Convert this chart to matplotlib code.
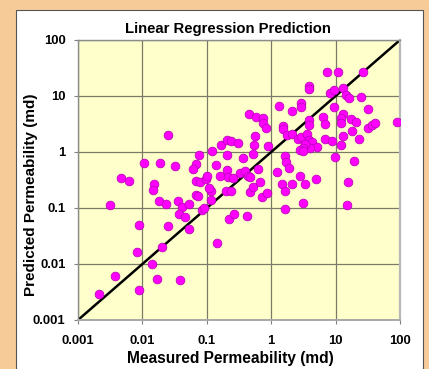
import numpy as np
import matplotlib
matplotlib.use("Agg")
import matplotlib.pyplot as plt
from matplotlib.patches import Rectangle

plt.rcParams['font.family'] = ['Liberation Sans', 'DejaVu Sans']

# log10 of measured and predicted permeability (md), one entry per core sample
log_k_measured = [
    -2.67, -2.43, -2.05, -1.85, -1.77, -1.42, -2.08, -1.69, -2.06, -1.61,
    -2.51, -2.34, -2.21, -1.97, -1.73, -1.49, -1.82, -1.84, -1.75, -1.64,
    -1.45, -1.39, -1.43, -1.34, -1.27, -1.28, -1.17, -1.13, -1.08, -1.04,
    -0.94, -0.93, -0.84, -0.66, -0.58, -0.37, -0.70, -0.62, -1.61, -1.12,
    -1.17, -1.22, -0.92, -0.78, -0.69, -0.63, -0.51, -0.86, -0.68, -0.44,
    -0.68, -0.80, -0.67, -0.59, -0.48, -0.41, -0.36, -0.33, -1.17, -1.11,
    -1.02, -0.99, -0.96, -0.34, -0.24, -0.13, -0.12, -0.08, -0.25, -0.27,
    -0.28, -0.20, -0.05, -0.33, -0.28, -0.17, -0.14, -0.06,
    0.12, 0.33, 0.46, 0.47, 0.58, 0.58, 0.87, 1.03, 1.43, 0.91,
    0.98, 1.11, 1.16, 1.21, 1.40, 0.98, 1.51, 0.58, 0.58, 0.81,
    0.84, 0.18, 0.19, 0.24, 0.33, 0.42, 0.47, 0.56, 0.58, 0.64,
    0.71, 0.61, 0.52, 0.50, 0.45, 0.49, 0.84, 0.94, 1.11, 1.08,
    1.12, 1.09, 1.08, 1.24, 1.31, 1.26, 1.37, 1.51, 1.57, 1.61,
    1.96, 0.99, 1.29, 1.20, 0.21, 0.23, 0.27, 0.09, 0.44, 0.70,
    0.16, 0.32, 0.53, 0.22, 0.49, 0.21, 1.18,
]
log_k_predicted = [
    -2.53, -2.22, -2.46, -2.00, -2.26, -2.28, -1.78, -1.70, -1.30, -1.33,
    -0.94, -0.47, -0.52, -0.19, -0.19, -0.25, -0.57, -0.67, -0.88, -0.92,
    -0.87, -0.98, -1.11, -1.16, -0.92, -1.38, -0.76, -0.79, -1.04, -1.00,
    -0.69, -0.85, -1.63, -1.20, -1.10, -1.14, -0.70, -0.69, 0.30, -0.05,
    -0.21, -0.31, 0.02, 0.13, 0.22, 0.19, 0.16, -0.23, -0.05, -0.10,
    -0.33, -0.43, -0.45, -0.47, -0.37, -0.34, -0.42, -0.45, -0.52, -0.54,
    -0.48, -0.43, -0.65, 0.68, 0.62, 0.60, 0.51, 0.42, 0.28, 0.13,
    -0.03, -0.30, 0.10, -0.72, -0.63, -0.54, -0.81, -0.74,
    0.82, 0.73, 0.88, 0.80, 1.18, 1.12, 1.43, 1.42, 1.42, 1.05,
    1.10, 1.15, 1.02, 0.96, 0.99, 0.80, 0.76, 0.57, 0.48, 0.62,
    0.50, 0.46, 0.41, 0.30, 0.33, 0.23, 0.26, 0.33, 0.21, 0.18,
    0.09, 0.08, 0.15, 0.08, 0.04, 0.01, 0.24, 0.19, 0.28, 0.12,
    0.68, 0.60, 0.51, 0.59, 0.53, 0.37, 0.24, 0.43, 0.49, 0.52,
    0.54, -0.09, -0.16, -0.54, -0.08, -0.18, -0.29, -0.35, -0.43, -0.48,
    -0.57, -0.57, -0.57, -0.70, -0.91, -1.01, -0.94,
]

# axis decades and the 1:1 reference line
decades = [0.001, 0.01, 0.1, 1, 10, 100]
decade_labels = ['0.001', '0.01', '0.1', '1', '10', '100']
unity_line = [0.001, 100]

measured = 10.0 ** np.array(log_k_measured)
predicted = 10.0 ** np.array(log_k_predicted)

fig = plt.figure(figsize=(4.29, 3.69), dpi=100)
fig.patch.set_facecolor('#F6CB98')

# white chart panel behind the plot area
fig.patches.append(Rectangle((16 / 429, -0.05), (423 - 16) / 429, 1.05 - 10 / 369,
                             transform=fig.transFigure, facecolor='white',
                             edgecolor='#555555', linewidth=0.8, zorder=-5))

ax = fig.add_axes([78 / 429, 1 - 320 / 369, (400 - 78) / 429, (320 - 40) / 369])
ax.set_zorder(2)
ax.set_facecolor('#FFFFCC')
ax.set_xscale('log')
ax.set_yscale('log')
ax.set_xlim(decades[0], decades[-1])
ax.set_ylim(decades[0], decades[-1])

ax.grid(True, which='major', color='#7A7A68', linewidth=0.9)
ax.set_axisbelow(True)

ax.plot(unity_line, unity_line, color='black', linewidth=1.8, zorder=2)
ax.scatter(measured, predicted, s=40, color='#FF00FF', edgecolors='#B000B0',
           linewidths=0.5, zorder=3)

ax.set_xticks(decades)
ax.set_xticklabels(decade_labels)
ax.set_yticks(decades)
ax.set_yticklabels(decade_labels)
ax.minorticks_off()
ax.tick_params(axis='both', which='major', direction='out', length=3,
               width=0.8, color='#808080', labelsize=9.4)
for lbl in ax.get_xticklabels() + ax.get_yticklabels():
    lbl.set_fontweight('bold')
ax.tick_params(axis='x', pad=8)
ax.tick_params(axis='y', pad=6)

for side in ['left', 'bottom', 'right', 'top']:
    ax.spines[side].set_color('#8C8C8C')
    ax.spines[side].set_linewidth(1.0)
ax.spines['right'].set_color('#B8B8B8')
ax.spines['right'].set_linewidth(1.6)
ax.spines['bottom'].set_color('#A8A8A8')
ax.spines['bottom'].set_linewidth(1.4)

ax.set_title('Linear Regression Prediction', fontsize=10.7, fontweight='bold',
             x=0.466, pad=5)
ax.set_xlabel('Measured Permeability (md)', fontsize=11.2, fontweight='bold')
ax.xaxis.set_label_coords(0.472, -0.112)
ax.set_ylabel('Predicted Permeability (md)', fontsize=11, fontweight='bold')
ax.yaxis.set_label_coords(-0.124, 0.446)

fig.savefig('out.png', dpi=100, facecolor=fig.get_facecolor())
